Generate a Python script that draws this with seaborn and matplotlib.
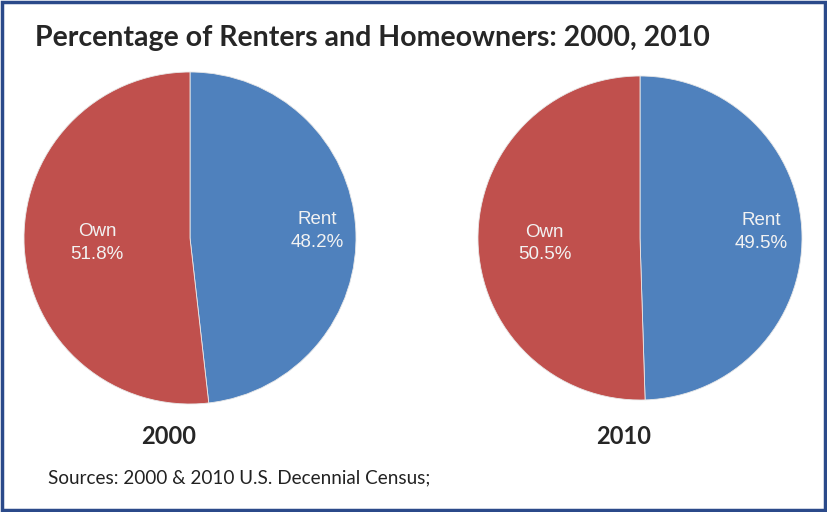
import matplotlib
matplotlib.use("Agg")
import numpy as np
import seaborn as sns
import matplotlib.pyplot as plt
from matplotlib.patches import Rectangle

# data
years = ['2000', '2010']
categories = ['Rent', 'Own']
rent = [48.2, 49.5]
own = [51.8, 50.5]

sns.set_theme(style="white")
plt.rcParams['font.family'] = ['Liberation Sans', 'DejaVu Sans']

colors = ['#4F81BD', '#C0504D']

fig = plt.figure(figsize=(8.27, 5.12), dpi=100)
W, H = 827, 512

# pie centres and radii in pixels
centres = [(190, 238, 166), (640, 238, 162)]
year_x = [169, 624]
# how far out the labels sit, per wedge (rent, own), plus a small vertical nudge
label_dist = [(0.77, 0.56), (0.75, 0.59)]
label_dy = [(0.0, 0.0), (0.025, -0.025)]

for i, year in enumerate(years):
    cx, cy, r = centres[i]
    ax = fig.add_axes([(cx - r) / W, 1 - (cy + r) / H, 2 * r / W, 2 * r / H])
    vals = [rent[i], own[i]]
    wedges, _ = ax.pie(vals, colors=colors, startangle=90, counterclock=False,
                       wedgeprops=dict(edgecolor='#e8e8e8', linewidth=0.6))
    for j, w in enumerate(wedges):
        ang = np.deg2rad((w.theta1 + w.theta2) / 2)
        d = label_dist[i][j]
        ax.text(d * np.cos(ang), d * np.sin(ang) + label_dy[i][j],
                f"{categories[j]}\n{vals[j]:.1f}%", ha='center', va='center',
                color='#f2f2f2', fontsize=13.5, linespacing=1.45)
    ax.set_xlim(-1, 1)
    ax.set_ylim(-1, 1)
    ax.set_aspect('equal')
    ax.axis('off')
    fig.text(year_x[i] / W, 1 - 437 / H, year, ha='center', va='center',
             fontsize=17, fontweight='bold', family=['Lato', 'DejaVu Sans'])

fig.text(35 / W, 1 - 38 / H, 'Percentage of Renters and Homeowners: 2000, 2010',
         ha='left', va='center', fontsize=20.5, fontweight='bold',
         family=['Lato', 'DejaVu Sans'])
fig.text(48 / W, 1 - 478 / H, 'Sources: 2000 & 2010 U.S. Decennial Census;',
         ha='left', va='center', fontsize=13.6, color='#222222',
         family=['Lato', 'DejaVu Sans'])

fig.patches.append(Rectangle((0.002, 0.003), 0.996, 0.994, transform=fig.transFigure,
                             fill=False, edgecolor='#2B4A8A', linewidth=2.5))

fig.savefig('out.png', dpi=100)
